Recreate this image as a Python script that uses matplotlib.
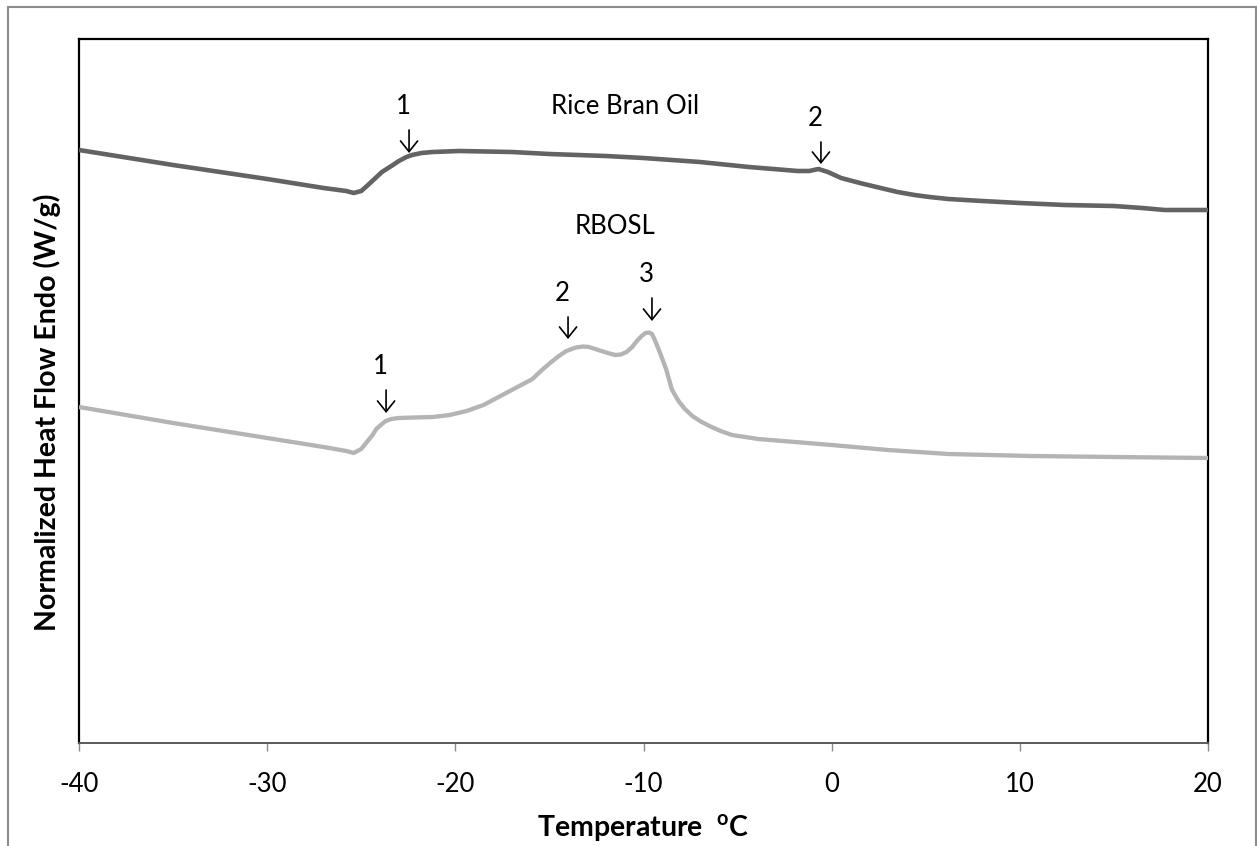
import matplotlib
matplotlib.use("Agg")
import matplotlib.pyplot as plt
from matplotlib.lines import Line2D

plt.rcParams["font.family"] = ["Lato", "DejaVu Sans"]
plt.rcParams["mathtext.fontset"] = "custom"
plt.rcParams["mathtext.rm"] = "Lato"
plt.rcParams["mathtext.bf"] = "Lato:bold"

# DSC traces (temperature in degC, normalized heat flow with vertical offset)
rbo_temp = [-40, -35, -30, -27, -25.8, -25.4, -25.0, -24.7, -24.3, -23.9, -23.4, -23.0,
            -22.6, -22.3, -21.8, -21.2, -19.8, -17, -15, -12, -10, -7, -4.4, -1.8,
            -1.2, -0.7, -0.2, 0.5, 1.5, 2.6, 3.5, 4.4, 5.2, 6.2, 8, 10,
            12.4, 15, 16.5, 17.7, 20]
rbo_flow = [5.93, 5.78, 5.64, 5.55, 5.52, 5.50, 5.52, 5.57, 5.64, 5.71, 5.77, 5.82,
            5.86, 5.88, 5.90, 5.91, 5.92, 5.91, 5.89, 5.87, 5.85, 5.81, 5.76, 5.72,
            5.72, 5.74, 5.71, 5.65, 5.60, 5.55, 5.51, 5.48, 5.46, 5.44, 5.42, 5.40,
            5.38, 5.37, 5.35, 5.33, 5.33]

rbosl_temp = [-40, -35, -30, -27, -25.8, -25.4, -25.0, -24.7, -24.4, -24.2, -23.9, -23.7,
              -23.4, -23.0, -22.2, -21.2, -20.3, -19.4, -18.5, -17.7, -16.8, -15.9, -15.4,
              -14.9, -14.5, -14.1, -13.6, -13.2, -12.9, -12.4, -11.9, -11.5, -11.2, -10.9,
              -10.6, -10.4, -10.1, -9.9, -9.7, -9.55, -9.4, -9.2, -9.0, -8.8, -8.5, -8.3,
              -8.1, -7.8, -7.4, -7.0, -6.5, -5.9, -5.3, -3.9, 0, 3, 6.2, 10.6, 15, 20]
rbosl_flow = [3.36, 3.20, 3.05, 2.96, 2.92, 2.90, 2.94, 3.01, 3.08, 3.14, 3.19, 3.22,
              3.24, 3.25, 3.255, 3.26, 3.28, 3.32, 3.38, 3.46, 3.55, 3.64, 3.73,
              3.81, 3.87, 3.92, 3.955, 3.965, 3.96, 3.93, 3.90, 3.88, 3.885, 3.91,
              3.96, 4.01, 4.07, 4.10, 4.105, 4.09, 4.03, 3.94, 3.84, 3.74, 3.54, 3.47,
              3.41, 3.34, 3.27, 3.22, 3.17, 3.12, 3.08, 3.04, 2.98, 2.93, 2.89, 2.87, 2.86, 2.85]

x_ticks = [-40, -30, -20, -10, 0, 10, 20]

fig = plt.figure(figsize=(12.57, 8.46), dpi=100)
W, H = 1257, 846
ax = fig.add_axes([79 / W, 1 - 743 / H, (1208 - 79) / W, (743 - 39) / H])

ax.plot(rbo_temp, rbo_flow, color="#636363", lw=3.3, solid_capstyle="butt",
        solid_joinstyle="round", zorder=3)
ax.plot(rbosl_temp, rbosl_flow, color="#b4b4b4", lw=3.1, solid_capstyle="butt",
        solid_joinstyle="round", zorder=3)

ax.set_xlim(-40, 20)
ax.set_ylim(0, 7.04)
ax.set_xticks(x_ticks)
ax.set_xticklabels([str(t) for t in x_ticks])
ax.set_yticks([])
ax.tick_params(axis="x", direction="out", length=6, width=1, color="#8a8a8a",
               pad=15, labelsize=18.5, labelcolor="black")

for side in ("left", "top", "right"):
    ax.spines[side].set_color("black")
    ax.spines[side].set_linewidth(1.6)
ax.spines["bottom"].set_color("#5a5a5a")
ax.spines["bottom"].set_linewidth(1.4)

# curve names
ax.text(-11.0, 6.36, "Rice Bran Oil", ha="center", va="center", fontsize=18.5)
ax.text(-11.5, 5.16, "RBOSL", ha="center", va="center", fontsize=18.5)

# transition markers: (x, arrow tail, arrow tip, label)
markers = [(-22.46, 6.13, 5.90, "1"), (-0.57, 6.01, 5.79, "2"),
           (-23.68, 3.53, 3.30, "1"), (-14.01, 4.26, 4.04, "2"),
           (-9.55, 4.45, 4.22, "3")]
for x, tail, tip, lab in markers:
    ax.annotate("", xy=(x, tip), xytext=(x, tail),
                arrowprops=dict(arrowstyle="->,head_length=0.35,head_width=0.28",
                                lw=1.2, color="black",
                                shrinkA=0, shrinkB=0, mutation_scale=22))
    ax.text(x - 0.3, tail + 0.23, lab, ha="center", va="center", fontsize=18.5)

fig.text(643 / W, 1 - 828 / H, r"Temperature  $^{\mathbf{o}}$C", ha="center", va="center",
         fontsize=20.5, fontweight="bold")
fig.text(47 / W, 1 - 412 / H, "Normalized Heat Flow Endo (W/g)", ha="center", va="center",
         rotation=90, fontsize=20.5, fontweight="bold")

# outer chart frame
frame_kw = dict(color="#8c8c8c", lw=1.5, transform=fig.transFigure)
fig.add_artist(Line2D([8 / W, 8 / W], [0, 1 - 7 / H], **frame_kw))
fig.add_artist(Line2D([8 / W, 1255.5 / W], [1 - 7 / H, 1 - 7 / H], **frame_kw))
fig.add_artist(Line2D([1255.5 / W, 1255.5 / W], [0, 1 - 7 / H], **frame_kw))

fig.savefig("out.png", dpi=100, facecolor="white")
